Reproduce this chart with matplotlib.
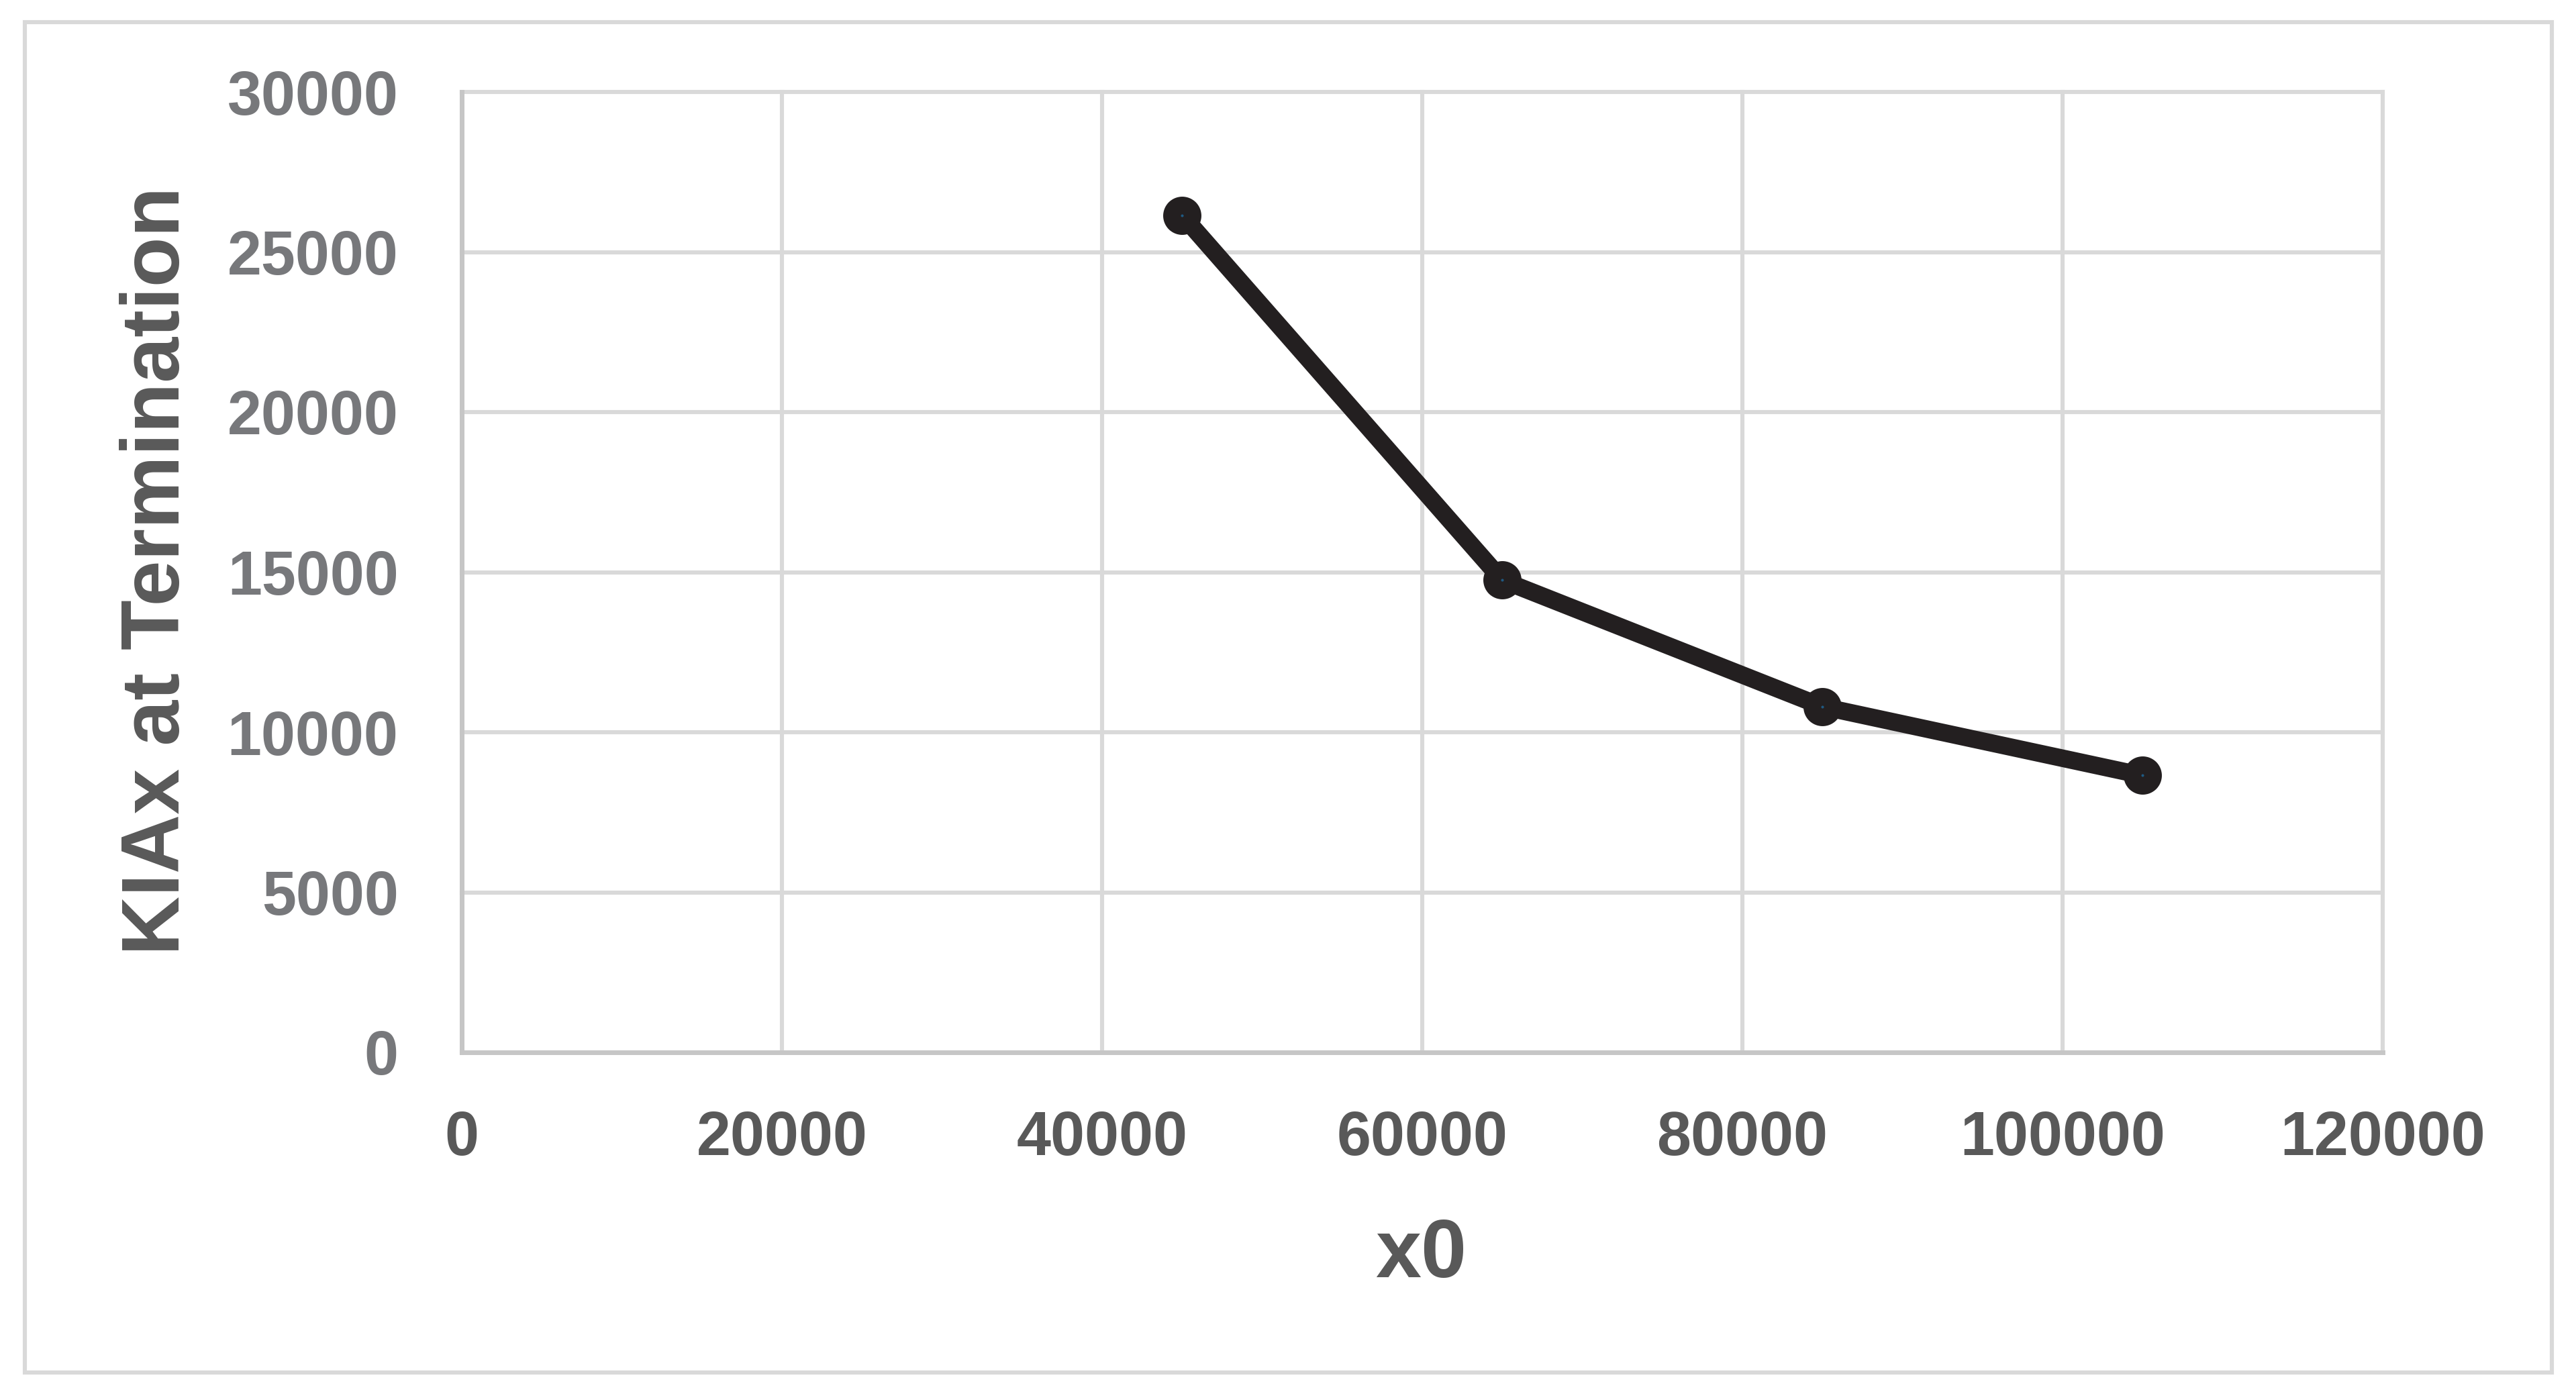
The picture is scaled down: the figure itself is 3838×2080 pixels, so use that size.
import matplotlib
matplotlib.use('Agg')
import matplotlib.pyplot as plt
from matplotlib.patches import Rectangle

# data
x0_values = [45000, 65000, 85000, 105000]
kiax_values = [26150, 14750, 10800, 8650]
x_ticks = [0, 20000, 40000, 60000, 80000, 100000, 120000]
y_ticks = [0, 5000, 10000, 15000, 20000, 25000, 30000]

W, H, DPI = 3838, 2080, 200
plt.rcParams['font.family'] = ['Liberation Sans', 'DejaVu Sans']
plt.rcParams['font.weight'] = 'bold'

fig = plt.figure(figsize=(W / DPI, H / DPI), dpi=DPI)

# outer chart frame
fig.patches.append(Rectangle((37 / W, 1 - 2045 / H), (3802 - 37) / W, (2045 - 33) / H,
                             transform=fig.transFigure, fill=False,
                             edgecolor='#d9d9d9', linewidth=2.2))

ax = fig.add_axes([688 / W, 1 - 1568 / H, (3550 - 688) / W, (1568 - 137) / H])

ax.plot(x0_values, kiax_values, color='#231f20', linewidth=9.4,
        marker='o', markersize=11, markeredgewidth=9.5,
        markeredgecolor='#231f20', markerfacecolor='#1f5a82', zorder=3)

ax.set_xlim(0, 120000)
ax.set_ylim(0, 30000)
ax.set_xticks(x_ticks)
ax.set_yticks(y_ticks)
ax.set_xticklabels([str(t) for t in x_ticks])
ax.set_yticklabels([str(t) for t in y_ticks])

ax.grid(True, color='#d9d9d9', linewidth=2.2)
for gl in ax.get_xgridlines() + ax.get_ygridlines():
    gl.set_clip_on(False)
ax.set_axisbelow(True)

for side in ['top', 'right']:
    ax.spines[side].set_visible(False)
for side in ['left', 'bottom']:
    ax.spines[side].set_color('#c6c6c6')
    ax.spines[side].set_linewidth(2.5)
    ax.spines[side].set_zorder(2.5)

ax.tick_params(axis='both', length=0)
ax.tick_params(axis='x', labelsize=33, labelcolor='#595959', pad=31)
ax.tick_params(axis='y', labelsize=33, labelcolor='#77787b', pad=34)
for lab in ax.get_xticklabels() + ax.get_yticklabels():
    lab.set_fontweight('bold')

fig.text(2117 / W, 1 - 1903 / H, 'x0', fontsize=44, fontweight='bold',
         color='#595959', ha='center', va='baseline')
fig.text(267 / W, 1 - 850 / H, 'KIAx at Termination', fontsize=44,
         fontweight='bold', color='#595959', rotation=90,
         rotation_mode='anchor', ha='center', va='baseline')

fig.savefig('out.png', dpi=DPI, facecolor='white')
